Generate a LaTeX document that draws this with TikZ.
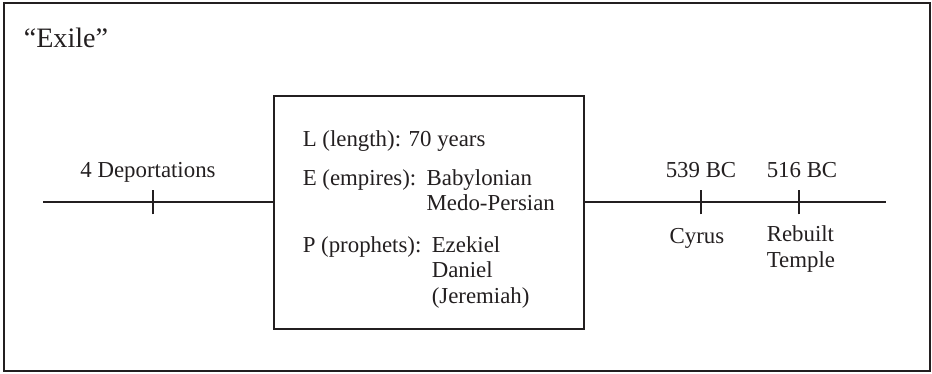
\documentclass[tikz,border=0pt]{standalone}
\usepackage{fontspec}
\setmainfont{Liberation Serif}
\usetikzlibrary{positioning}
\definecolor{ink}{HTML}{231F20}

\begin{document}
\begin{tikzpicture}[
  x=0.02cm, y=-0.02cm,
  ink, line width=0.9pt,
  lbl/.style={inner sep=0pt, text=ink, font=\fontsize{13}{14.7}\selectfont},
  tick/.style={line width=0.8pt}
]
\useasboundingbox (0,0) rectangle (932,373);

% ── Outer frame and title ──
\draw[line width=1.1pt] (4,3) rectangle (930,371);
\node (title) [lbl, anchor=base west, font=\fontsize{16}{18}\selectfont]
  at (23,47) {“Exile”};

% ── Exile box (drawn on white, timeline meets its sides) ──
\node (exilebox) [draw, line width=1.1pt, fill=white, inner sep=0pt,
  minimum width=6.2cm, minimum height=4.66cm] at (429,212.5) {};

% ── Timeline ──
\coordinate (tstart) at (43,202);
\coordinate (tend) at (886,202);
\draw (tstart) -- (exilebox.west |- tstart);
\draw (exilebox.east |- tend) -- (tend);

% ticks
\coordinate (deport) at (153,202);
\coordinate (cyrus) at (701,202);
\coordinate (temple) at (799,202);
\draw[tick] ([yshift=-7]deport) -- ([yshift=7]deport);
\draw[tick] ([yshift=-7]cyrus) -- ([yshift=7]cyrus);
\draw[tick] ([yshift=-7]temple) -- ([yshift=7]temple);

% ── Labels on the timeline ──
\node (deportlbl) [lbl, anchor=base] at (148,177) {4 Deportations};
\node (yr539) [lbl, anchor=base] at (701,177) {539 BC};
\node (yr516) [lbl, anchor=base] at (802,177) {516 BC};
\node (cyruslbl) [lbl, anchor=base] at (697,243) {Cyrus};
% base of a multi-line node is its last line
\node (templelbl) [lbl, anchor=base west, align=left] at (766,267) {Rebuilt\\Temple};

% ── Box contents ──
\node (length) [lbl, anchor=base west] at (302,146) {L (length): 70 years};
\node (empires) [lbl, anchor=base west] at (302,185) {E (empires):};
\node (emplist) [lbl, anchor=base west, align=left, xshift=5pt, yshift=-14.7pt]
  at (empires.base east) {Babylonian\\Medo-Persian};
\node (prophets) [lbl, anchor=base west] at (302,252) {P (prophets):};
\node (proplist) [lbl, anchor=base west, align=left, xshift=5pt, yshift=-29.4pt]
  at (prophets.base east) {Ezekiel\\Daniel\\(Jeremiah)};

\end{tikzpicture}
\end{document}
